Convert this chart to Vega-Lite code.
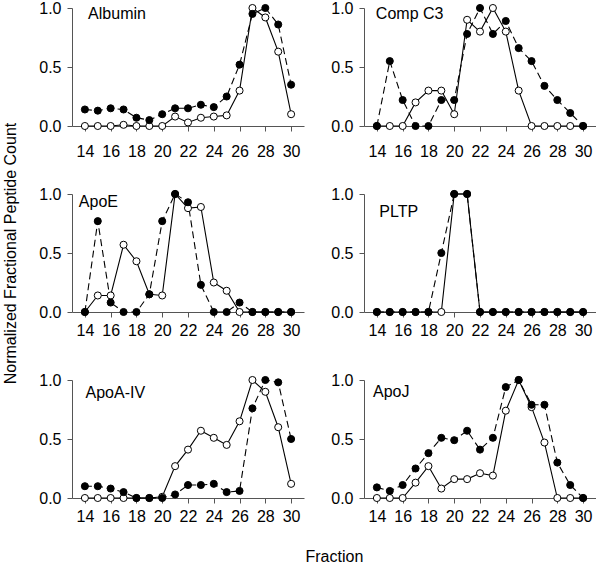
{
"$schema":"https://vega.github.io/schema/vega-lite/v6.json",
"autosize":{"type":"pad"},
"padding":{"left":2,"top":0,"right":0,"bottom":0},
"background":"white",
"title":{"text":"Fraction","orient":"bottom","anchor":"middle","fontSize":16,"fontWeight":"normal","font":"Liberation Sans","color":"black","offset":25,"dx":35},
"datasets":{"d":[
{"protein":"Albumin","fraction":14,"filled":0.14,"open":0},
{"protein":"Albumin","fraction":15,"filled":0.13,"open":0},
{"protein":"Albumin","fraction":16,"filled":0.15,"open":0},
{"protein":"Albumin","fraction":17,"filled":0.14,"open":0.01},
{"protein":"Albumin","fraction":18,"filled":0.07,"open":0},
{"protein":"Albumin","fraction":19,"filled":0.05,"open":0},
{"protein":"Albumin","fraction":20,"filled":0.10,"open":0},
{"protein":"Albumin","fraction":21,"filled":0.15,"open":0.08},
{"protein":"Albumin","fraction":22,"filled":0.15,"open":0.03},
{"protein":"Albumin","fraction":23,"filled":0.18,"open":0.07},
{"protein":"Albumin","fraction":24,"filled":0.16,"open":0.08},
{"protein":"Albumin","fraction":25,"filled":0.25,"open":0.09},
{"protein":"Albumin","fraction":26,"filled":0.52,"open":0.30},
{"protein":"Albumin","fraction":27,"filled":0.95,"open":1.0},
{"protein":"Albumin","fraction":28,"filled":1.0,"open":0.92},
{"protein":"Albumin","fraction":29,"filled":0.86,"open":0.63},
{"protein":"Albumin","fraction":30,"filled":0.35,"open":0.10},
{"protein":"Comp C3","fraction":14,"filled":0,"open":0},
{"protein":"Comp C3","fraction":15,"filled":0.55,"open":0},
{"protein":"Comp C3","fraction":16,"filled":0.22,"open":0},
{"protein":"Comp C3","fraction":17,"filled":0,"open":0.20},
{"protein":"Comp C3","fraction":18,"filled":0,"open":0.30},
{"protein":"Comp C3","fraction":19,"filled":0.22,"open":0.30},
{"protein":"Comp C3","fraction":20,"filled":0.22,"open":0.10},
{"protein":"Comp C3","fraction":21,"filled":0.78,"open":0.90},
{"protein":"Comp C3","fraction":22,"filled":1.0,"open":0.80},
{"protein":"Comp C3","fraction":23,"filled":0.78,"open":1.0},
{"protein":"Comp C3","fraction":24,"filled":0.89,"open":0.80},
{"protein":"Comp C3","fraction":25,"filled":0.66,"open":0.30},
{"protein":"Comp C3","fraction":26,"filled":0.55,"open":0},
{"protein":"Comp C3","fraction":27,"filled":0.34,"open":0},
{"protein":"Comp C3","fraction":28,"filled":0.22,"open":0},
{"protein":"Comp C3","fraction":29,"filled":0.11,"open":0},
{"protein":"Comp C3","fraction":30,"filled":0,"open":0},
{"protein":"ApoE","fraction":14,"filled":0,"open":0},
{"protein":"ApoE","fraction":15,"filled":0.77,"open":0.14},
{"protein":"ApoE","fraction":16,"filled":0.08,"open":0.14},
{"protein":"ApoE","fraction":17,"filled":0,"open":0.57},
{"protein":"ApoE","fraction":18,"filled":0,"open":0.43},
{"protein":"ApoE","fraction":19,"filled":0.15,"open":0.15},
{"protein":"ApoE","fraction":20,"filled":0.77,"open":0.14},
{"protein":"ApoE","fraction":21,"filled":1.0,"open":1.0},
{"protein":"ApoE","fraction":22,"filled":0.93,"open":0.88},
{"protein":"ApoE","fraction":23,"filled":0.23,"open":0.89},
{"protein":"ApoE","fraction":24,"filled":0,"open":0.25},
{"protein":"ApoE","fraction":25,"filled":0,"open":0.18},
{"protein":"ApoE","fraction":26,"filled":0.08,"open":0},
{"protein":"ApoE","fraction":27,"filled":0,"open":0},
{"protein":"ApoE","fraction":28,"filled":0,"open":0},
{"protein":"ApoE","fraction":29,"filled":0,"open":0},
{"protein":"ApoE","fraction":30,"filled":0,"open":0},
{"protein":"PLTP","fraction":14,"filled":0,"open":0},
{"protein":"PLTP","fraction":15,"filled":0,"open":0},
{"protein":"PLTP","fraction":16,"filled":0,"open":0},
{"protein":"PLTP","fraction":17,"filled":0,"open":0},
{"protein":"PLTP","fraction":18,"filled":0,"open":0},
{"protein":"PLTP","fraction":19,"filled":0.5,"open":0},
{"protein":"PLTP","fraction":20,"filled":1.0,"open":1.0},
{"protein":"PLTP","fraction":21,"filled":1.0,"open":1.0},
{"protein":"PLTP","fraction":22,"filled":0,"open":0},
{"protein":"PLTP","fraction":23,"filled":0,"open":0},
{"protein":"PLTP","fraction":24,"filled":0,"open":0},
{"protein":"PLTP","fraction":25,"filled":0,"open":0},
{"protein":"PLTP","fraction":26,"filled":0,"open":0},
{"protein":"PLTP","fraction":27,"filled":0,"open":0},
{"protein":"PLTP","fraction":28,"filled":0,"open":0},
{"protein":"PLTP","fraction":29,"filled":0,"open":0},
{"protein":"PLTP","fraction":30,"filled":0,"open":0},
{"protein":"ApoA-IV","fraction":14,"filled":0.10,"open":0},
{"protein":"ApoA-IV","fraction":15,"filled":0.10,"open":0},
{"protein":"ApoA-IV","fraction":16,"filled":0.08,"open":0},
{"protein":"ApoA-IV","fraction":17,"filled":0.05,"open":0},
{"protein":"ApoA-IV","fraction":18,"filled":0,"open":0},
{"protein":"ApoA-IV","fraction":19,"filled":0,"open":0},
{"protein":"ApoA-IV","fraction":20,"filled":0,"open":0.01},
{"protein":"ApoA-IV","fraction":21,"filled":0.03,"open":0.27},
{"protein":"ApoA-IV","fraction":22,"filled":0.11,"open":0.41},
{"protein":"ApoA-IV","fraction":23,"filled":0.11,"open":0.57},
{"protein":"ApoA-IV","fraction":24,"filled":0.12,"open":0.51},
{"protein":"ApoA-IV","fraction":25,"filled":0.05,"open":0.45},
{"protein":"ApoA-IV","fraction":26,"filled":0.06,"open":0.65},
{"protein":"ApoA-IV","fraction":27,"filled":0.76,"open":1.0},
{"protein":"ApoA-IV","fraction":28,"filled":1.0,"open":0.90},
{"protein":"ApoA-IV","fraction":29,"filled":0.98,"open":0.60},
{"protein":"ApoA-IV","fraction":30,"filled":0.50,"open":0.12},
{"protein":"ApoJ","fraction":14,"filled":0.09,"open":0},
{"protein":"ApoJ","fraction":15,"filled":0.06,"open":0},
{"protein":"ApoJ","fraction":16,"filled":0.11,"open":0},
{"protein":"ApoJ","fraction":17,"filled":0.25,"open":0.13},
{"protein":"ApoJ","fraction":18,"filled":0.38,"open":0.27},
{"protein":"ApoJ","fraction":19,"filled":0.51,"open":0.08},
{"protein":"ApoJ","fraction":20,"filled":0.49,"open":0.16},
{"protein":"ApoJ","fraction":21,"filled":0.57,"open":0.16},
{"protein":"ApoJ","fraction":22,"filled":0.41,"open":0.21},
{"protein":"ApoJ","fraction":23,"filled":0.51,"open":0.19},
{"protein":"ApoJ","fraction":24,"filled":0.94,"open":0.74},
{"protein":"ApoJ","fraction":25,"filled":1.0,"open":1.0},
{"protein":"ApoJ","fraction":26,"filled":0.79,"open":0.77},
{"protein":"ApoJ","fraction":27,"filled":0.79,"open":0.47},
{"protein":"ApoJ","fraction":28,"filled":0.30,"open":0},
{"protein":"ApoJ","fraction":29,"filled":0.11,"open":0},
{"protein":"ApoJ","fraction":30,"filled":0,"open":0}
]},
"columns":2,
"spacing":{"row":68,"column":60},
"bounds":"flush",
"concat":[
{"width":232,"height":118,"data":{"name":"d"},"transform":[{"filter":"datum.protein === 'Albumin'"}],
"encoding":{"x":{"field":"fraction","type":"quantitative","scale":{"domain":[13,31],"nice":false,"zero":false},"axis":{"values":[14,16,18,20,22,24,26,28,30],"title":null,"labelPadding":12}}},
"layer":[
{"mark":{"type":"line","color":"black","strokeWidth":1.1,"strokeDash":[7,4]},"encoding":{"y":{"field":"filled","type":"quantitative","scale":{"domain":[0,1]},"axis":{"values":[0,0.5,1],"format":".1f","title":null}}}},
{"mark":{"type":"line","color":"black","strokeWidth":1.1},"encoding":{"y":{"field":"open","type":"quantitative","scale":{"domain":[0,1]},"axis":{"values":[0,0.5,1],"format":".1f","title":null}}}},
{"mark":{"type":"point","filled":true,"fill":"white","stroke":"black","strokeWidth":1,"size":50,"opacity":1},"encoding":{"y":{"field":"open","type":"quantitative"}}},
{"mark":{"type":"point","filled":true,"fill":"black","stroke":"black","strokeWidth":1,"size":50,"opacity":1},"encoding":{"y":{"field":"filled","type":"quantitative"}}},
{"transform":[{"filter":"datum.fraction === 14"}],"mark":{"type":"text","align":"left","baseline":"middle","fontSize":16,"color":"black"},"encoding":{"x":{"datum":14.25},"y":{"datum":0.95},"text":{"field":"protein"}}}
]},
{"width":232,"height":118,"data":{"name":"d"},"transform":[{"filter":"datum.protein === 'Comp C3'"}],
"encoding":{"x":{"field":"fraction","type":"quantitative","scale":{"domain":[13,31],"nice":false,"zero":false},"axis":{"values":[14,16,18,20,22,24,26,28,30],"title":null,"labelPadding":12}}},
"layer":[
{"mark":{"type":"line","color":"black","strokeWidth":1.1,"strokeDash":[7,4]},"encoding":{"y":{"field":"filled","type":"quantitative","scale":{"domain":[0,1]},"axis":{"values":[0,0.5,1],"format":".1f","title":null}}}},
{"mark":{"type":"line","color":"black","strokeWidth":1.1},"encoding":{"y":{"field":"open","type":"quantitative","scale":{"domain":[0,1]},"axis":{"values":[0,0.5,1],"format":".1f","title":null}}}},
{"mark":{"type":"point","filled":true,"fill":"white","stroke":"black","strokeWidth":1,"size":50,"opacity":1},"encoding":{"y":{"field":"open","type":"quantitative"}}},
{"mark":{"type":"point","filled":true,"fill":"black","stroke":"black","strokeWidth":1,"size":50,"opacity":1},"encoding":{"y":{"field":"filled","type":"quantitative"}}},
{"transform":[{"filter":"datum.fraction === 14"}],"mark":{"type":"text","align":"left","baseline":"middle","fontSize":16,"color":"black"},"encoding":{"x":{"datum":13.92},"y":{"datum":0.95},"text":{"field":"protein"}}}
]},
{"width":232,"height":118,"data":{"name":"d"},"transform":[{"filter":"datum.protein === 'ApoE'"}],
"encoding":{"x":{"field":"fraction","type":"quantitative","scale":{"domain":[13,31],"nice":false,"zero":false},"axis":{"values":[14,16,18,20,22,24,26,28,30],"title":null,"labelPadding":5}}},
"layer":[
{"mark":{"type":"line","color":"black","strokeWidth":1.1,"strokeDash":[7,4]},"encoding":{"y":{"field":"filled","type":"quantitative","scale":{"domain":[0,1]},"axis":{"values":[0,0.5,1],"format":".1f","title":"Normalized Fractional Peptide Count","titlePadding":20}}}},
{"mark":{"type":"line","color":"black","strokeWidth":1.1},"encoding":{"y":{"field":"open","type":"quantitative","scale":{"domain":[0,1]},"axis":{"values":[0,0.5,1],"format":".1f","title":"Normalized Fractional Peptide Count","titlePadding":20}}}},
{"mark":{"type":"point","filled":true,"fill":"white","stroke":"black","strokeWidth":1,"size":50,"opacity":1},"encoding":{"y":{"field":"open","type":"quantitative"}}},
{"mark":{"type":"point","filled":true,"fill":"black","stroke":"black","strokeWidth":1,"size":50,"opacity":1},"encoding":{"y":{"field":"filled","type":"quantitative"}}},
{"transform":[{"filter":"datum.fraction === 14"}],"mark":{"type":"text","align":"left","baseline":"middle","fontSize":16,"color":"black"},"encoding":{"x":{"datum":13.53},"y":{"datum":0.93},"text":{"field":"protein"}}}
]},
{"width":232,"height":118,"data":{"name":"d"},"transform":[{"filter":"datum.protein === 'PLTP'"}],
"encoding":{"x":{"field":"fraction","type":"quantitative","scale":{"domain":[13,31],"nice":false,"zero":false},"axis":{"values":[14,16,18,20,22,24,26,28,30],"title":null,"labelPadding":5}}},
"layer":[
{"mark":{"type":"line","color":"black","strokeWidth":1.1,"strokeDash":[7,4]},"encoding":{"y":{"field":"filled","type":"quantitative","scale":{"domain":[0,1]},"axis":{"values":[0,0.5,1],"format":".1f","title":null}}}},
{"mark":{"type":"line","color":"black","strokeWidth":1.1},"encoding":{"y":{"field":"open","type":"quantitative","scale":{"domain":[0,1]},"axis":{"values":[0,0.5,1],"format":".1f","title":null}}}},
{"mark":{"type":"point","filled":true,"fill":"white","stroke":"black","strokeWidth":1,"size":50,"opacity":1},"encoding":{"y":{"field":"open","type":"quantitative"}}},
{"mark":{"type":"point","filled":true,"fill":"black","stroke":"black","strokeWidth":1,"size":50,"opacity":1},"encoding":{"y":{"field":"filled","type":"quantitative"}}},
{"transform":[{"filter":"datum.fraction === 14"}],"mark":{"type":"text","align":"left","baseline":"middle","fontSize":16,"color":"black"},"encoding":{"x":{"datum":14.19},"y":{"datum":0.85},"text":{"field":"protein"}}}
]},
{"width":232,"height":118,"data":{"name":"d"},"transform":[{"filter":"datum.protein === 'ApoA-IV'"}],
"encoding":{"x":{"field":"fraction","type":"quantitative","scale":{"domain":[13,31],"nice":false,"zero":false},"axis":{"values":[14,16,18,20,22,24,26,28,30],"title":null,"labelPadding":5}}},
"layer":[
{"mark":{"type":"line","color":"black","strokeWidth":1.1,"strokeDash":[7,4]},"encoding":{"y":{"field":"filled","type":"quantitative","scale":{"domain":[0,1]},"axis":{"values":[0,0.5,1],"format":".1f","title":null}}}},
{"mark":{"type":"line","color":"black","strokeWidth":1.1},"encoding":{"y":{"field":"open","type":"quantitative","scale":{"domain":[0,1]},"axis":{"values":[0,0.5,1],"format":".1f","title":null}}}},
{"mark":{"type":"point","filled":true,"fill":"white","stroke":"black","strokeWidth":1,"size":50,"opacity":1},"encoding":{"y":{"field":"open","type":"quantitative"}}},
{"mark":{"type":"point","filled":true,"fill":"black","stroke":"black","strokeWidth":1,"size":50,"opacity":1},"encoding":{"y":{"field":"filled","type":"quantitative"}}},
{"transform":[{"filter":"datum.fraction === 14"}],"mark":{"type":"text","align":"left","baseline":"middle","fontSize":16,"color":"black"},"encoding":{"x":{"datum":14.05},"y":{"datum":0.89},"text":{"field":"protein"}}}
]},
{"width":232,"height":118,"data":{"name":"d"},"transform":[{"filter":"datum.protein === 'ApoJ'"}],
"encoding":{"x":{"field":"fraction","type":"quantitative","scale":{"domain":[13,31],"nice":false,"zero":false},"axis":{"values":[14,16,18,20,22,24,26,28,30],"title":null,"labelPadding":5}}},
"layer":[
{"mark":{"type":"line","color":"black","strokeWidth":1.1,"strokeDash":[7,4]},"encoding":{"y":{"field":"filled","type":"quantitative","scale":{"domain":[0,1]},"axis":{"values":[0,0.5,1],"format":".1f","title":null}}}},
{"mark":{"type":"line","color":"black","strokeWidth":1.1},"encoding":{"y":{"field":"open","type":"quantitative","scale":{"domain":[0,1]},"axis":{"values":[0,0.5,1],"format":".1f","title":null}}}},
{"mark":{"type":"point","filled":true,"fill":"white","stroke":"black","strokeWidth":1,"size":50,"opacity":1},"encoding":{"y":{"field":"open","type":"quantitative"}}},
{"mark":{"type":"point","filled":true,"fill":"black","stroke":"black","strokeWidth":1,"size":50,"opacity":1},"encoding":{"y":{"field":"filled","type":"quantitative"}}},
{"transform":[{"filter":"datum.fraction === 14"}],"mark":{"type":"text","align":"left","baseline":"middle","fontSize":16,"color":"black"},"encoding":{"x":{"datum":13.7},"y":{"datum":0.9},"text":{"field":"protein"}}}
]}
],
"config":{
"view":{"stroke":null},
"font":"Liberation Sans",
"axis":{"grid":false,"domainColor":"#555555","tickColor":"#555555","tickSize":5,"labelColor":"black","labelFontSize":16,"labelFont":"Liberation Sans","titleFont":"Liberation Sans","titleFontSize":16,"titleFontWeight":"normal","titleColor":"black"},
"axisY":{"labelPadding":6}
}
}
